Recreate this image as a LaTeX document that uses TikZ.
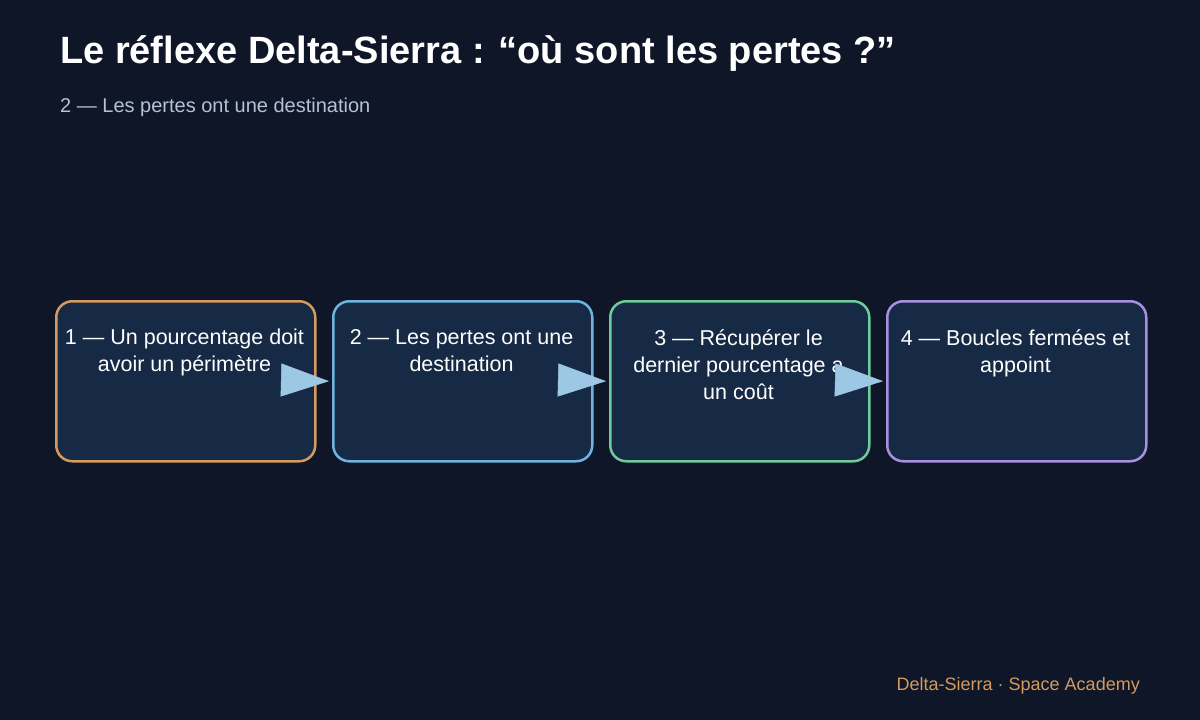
\documentclass[tikz,border=0pt]{standalone}
\usepackage{fontspec}
\setmainfont{Liberation Sans}
\usetikzlibrary{arrows.meta}
\definecolor{bg}{HTML}{0E1627}
\definecolor{boxfill}{HTML}{172A45}
\definecolor{cA}{HTML}{D49A5E}
\definecolor{cB}{HTML}{6FB4E0}
\definecolor{cC}{HTML}{6FCB9A}
\definecolor{cD}{HTML}{A890E0}
\definecolor{arr}{HTML}{9CC8E6}
\definecolor{sub}{HTML}{B4C2D6}
\begin{document}
\begin{tikzpicture}[x=1pt,y=-1pt,
  box/.style={draw,line width=2.5pt,rounded corners=16pt,fill=boxfill,minimum width=259pt,minimum height=160pt,anchor=north west},
  lbl/.style={text=white,align=center,font=\fontsize{21.5}{27}\selectfont,anchor=north,inner sep=0},
  con/.style={arr,line width=0.5pt,shorten >=3pt,-{Triangle[length=48pt,width=33pt]}}]
\fill[bg] (0,0) rectangle (1200,720);
\useasboundingbox (0,0) rectangle (1200,720);
\node[anchor=base west,text=white,font=\fontsize{38}{44}\selectfont\bfseries,inner sep=0] (title) at (60,63) {Le réflexe Delta-Sierra : “où sont les pertes ?”};
\node[anchor=base west,text=sub,font=\fontsize{20}{24}\selectfont,inner sep=0] (subt) at (60,112) {2 — Les pertes ont une destination};
\node[box,draw=cA] (b1) at (55,300) {};
\node[box,draw=cB] (b2) at (332,300) {};
\node[box,draw=cC] (b3) at (609,300) {};
\node[box,draw=cD] (b4) at (886,300) {};
\node[lbl] (t1) at (184.5,329) {1 — Un pourcentage doit\\avoir un périmètre};
\node[lbl] (t2) at (461.5,329) {2 — Les pertes ont une\\destination};
\node[lbl] (t3) at (738.5,329) {3 — Récupérer le\\dernier pourcentage a\\un coût};
\node[lbl] (t4) at (1015.5,329) {4 — Boucles fermées et\\appoint};
\coordinate (a1) at (281,380); \coordinate (a2) at (558,380); \coordinate (a3) at (835,380);
\draw[con] (a1) -- (b2.west);
\draw[con] (a2) -- (b3.west);
\draw[con] (a3) -- (b4.west);
\node[anchor=base east,text=cA,font=\fontsize{18}{22}\selectfont,inner sep=0] (foot) at (1140,690) {Delta-Sierra · Space Academy};
\end{tikzpicture}
\end{document}
